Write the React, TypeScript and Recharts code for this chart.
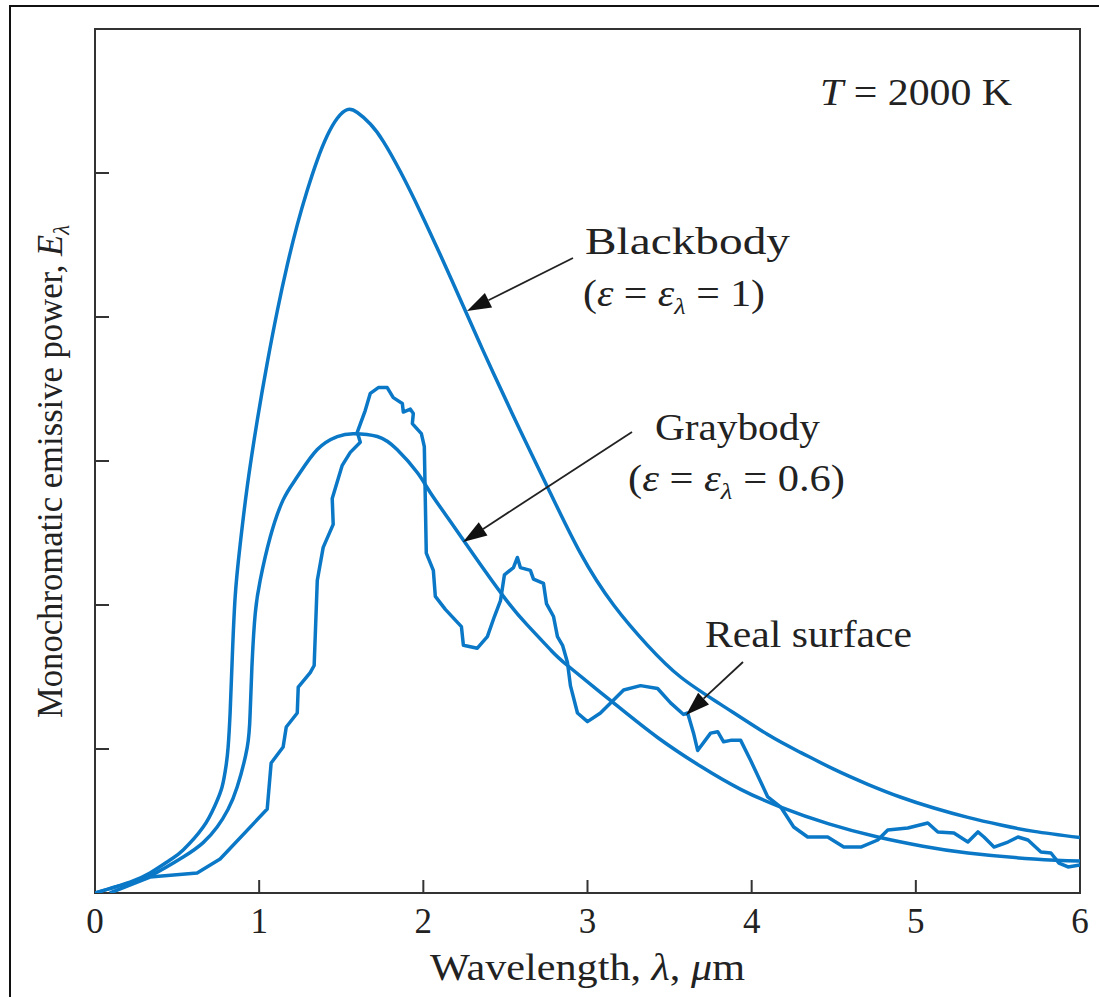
import React from 'react';
import { ComposedChart, Line, XAxis, YAxis, ReferenceArea } from 'recharts';

// Wavelength (µm) and monochromatic emissive power (arbitrary units)
const blackbodyLambda = [0, 0.213, 0.335, 0.457, 0.537, 0.659, 0.732, 0.774, 0.799, 0.811, 0.823, 0.835, 0.854, 0.884, 0.927, 0.988, 1.049, 1.11, 1.171, 1.232, 1.293, 1.354, 1.415, 1.476, 1.537, 1.598, 1.677, 1.756, 1.86, 1.982, 2.104, 2.226, 2.335, 2.427, 2.591, 2.756, 2.957, 3.159, 3.366, 3.567, 3.811, 4.098, 4.3, 4.5, 4.707, 4.909, 5.11, 5.317, 5.518, 5.72, 6.0];
const blackbodyE = [0, 0.076, 0.139, 0.229, 0.299, 0.458, 0.611, 0.736, 0.889, 1.014, 1.25, 1.6, 2.06, 2.417, 2.82, 3.28, 3.68, 4.04, 4.36, 4.64, 4.88, 5.09, 5.26, 5.38, 5.44, 5.42, 5.34, 5.22, 5.01, 4.73, 4.43, 4.12, 3.84, 3.61, 3.21, 2.82, 2.36, 2.0, 1.72, 1.5, 1.31, 1.1, 0.975, 0.86, 0.755, 0.665, 0.59, 0.525, 0.472, 0.428, 0.385];

const graybodyLambda = [0, 0.213, 0.335, 0.537, 0.659, 0.744, 0.81, 0.866, 0.927, 0.945, 0.957, 0.976, 1.006, 1.067, 1.146, 1.232, 1.354, 1.476, 1.573, 1.72, 1.84, 1.963, 2.043, 2.165, 2.287, 2.488, 2.634, 2.774, 2.878, 3.159, 3.427, 3.689, 3.933, 4.177, 4.47, 4.768, 5.043, 5.317, 5.72, 6.0];
const graybodyE = [0, 0.07, 0.118, 0.25, 0.35, 0.458, 0.58, 0.736, 1.01, 1.25, 1.6, 1.94, 2.17, 2.47, 2.73, 2.89, 3.08, 3.17, 3.19, 3.17, 3.08, 2.92, 2.78, 2.58, 2.38, 2.06, 1.86, 1.69, 1.58, 1.32, 1.08, 0.88, 0.72, 0.597, 0.48, 0.389, 0.325, 0.278, 0.236, 0.222];

const realLambda = [0.091, 0.335, 0.622, 0.762, 1.049, 1.073, 1.146, 1.165, 1.232, 1.238, 1.311, 1.335, 1.354, 1.39, 1.451, 1.445, 1.506, 1.555, 1.616, 1.598, 1.646, 1.677, 1.726, 1.78, 1.817, 1.872, 1.878, 1.921, 1.939, 1.933, 1.988, 2.006, 2.018, 2.061, 2.073, 2.134, 2.232, 2.244, 2.329, 2.39, 2.433, 2.47, 2.494, 2.549, 2.573, 2.591, 2.652, 2.671, 2.732, 2.75, 2.793, 2.817, 2.848, 2.878, 2.896, 2.939, 3.0, 3.079, 3.22, 3.323, 3.427, 3.506, 3.585, 3.61, 3.646, 3.671, 3.75, 3.793, 3.829, 3.872, 3.933, 3.994, 4.098, 4.177, 4.256, 4.341, 4.463, 4.561, 4.665, 4.768, 4.829, 4.951, 5.073, 5.134, 5.232, 5.317, 5.378, 5.415, 5.476, 5.561, 5.622, 5.683, 5.762, 5.823, 5.872, 5.927, 6.0];
const realE = [0, 0.111, 0.139, 0.236, 0.583, 0.903, 1.014, 1.153, 1.25, 1.43, 1.53, 1.58, 2.17, 2.4, 2.56, 2.74, 2.97, 3.06, 3.13, 3.2, 3.35, 3.47, 3.51, 3.51, 3.44, 3.4, 3.34, 3.36, 3.33, 3.26, 3.19, 3.1, 2.36, 2.24, 2.06, 1.97, 1.85, 1.72, 1.7, 1.78, 1.92, 2.03, 2.21, 2.26, 2.33, 2.26, 2.24, 2.18, 2.15, 2.01, 1.92, 1.78, 1.72, 1.6, 1.44, 1.25, 1.19, 1.25, 1.41, 1.44, 1.42, 1.32, 1.24, 1.25, 1.11, 0.99, 1.11, 1.12, 1.05, 1.06, 1.06, 0.92, 0.667, 0.597, 0.458, 0.389, 0.389, 0.319, 0.319, 0.368, 0.4375, 0.451, 0.486, 0.424, 0.417, 0.354, 0.424, 0.389, 0.319, 0.354, 0.389, 0.368, 0.285, 0.278, 0.208, 0.181, 0.194];

const xTicks = [0, 1, 2, 3, 4, 5, 6];
const yTicks = [1, 2, 3, 4, 5];

const toPoints = (xs: number[], ys: number[]) => xs.map((x, i) => ({ x, y: ys[i] }));
const blackbody = toPoints(blackbodyLambda, blackbodyE);
const graybody = toPoints(graybodyLambda, graybodyE);
const real = toPoints(realLambda, realE);

const BLUE = '#0a78c6';
const INK = '#222';
const FONT = '"Liberation Serif", "Times New Roman", serif';

const XTick = (props: any) => {
  const { x, y, payload } = props;
  const v = payload.value;
  return (
    <g>
      {v !== 0 && v !== 6 && <line x1={x} y1={y} x2={x} y2={y - 13} stroke="#333" strokeWidth={2} />}
      <text x={x} y={y + 40} textAnchor="middle" fontSize={35} fontFamily={FONT} fill={INK}>
        {v}
      </text>
    </g>
  );
};

const YTick = (props: any) => {
  const { x, y } = props;
  return <line x1={x} y1={y} x2={x + 14} y2={y} stroke="#333" strokeWidth={2} />;
};

const Arrow = ({ x1, y1, x2, y2 }: { x1: number; y1: number; x2: number; y2: number }) => {
  const dx = x2 - x1;
  const dy = y2 - y1;
  const len = Math.sqrt(dx * dx + dy * dy);
  const ux = dx / len;
  const uy = dy / len;
  const hl = 24;
  const hw = 8;
  const bx = x2 - ux * hl;
  const by = y2 - uy * hl;
  const pts = `${x2},${y2} ${bx - uy * hw},${by + ux * hw} ${bx + uy * hw},${by - ux * hw}`;
  return (
    <g>
      <line x1={x1} y1={y1} x2={bx} y2={by} stroke="#222" strokeWidth={1.8} />
      <polygon points={pts} fill="#111" />
    </g>
  );
};

const stretch = { lengthAdjust: 'spacingAndGlyphs' as const };

export default function App() {
  return (
    <div style={{ position: 'absolute', left: 0, top: 0, width: 1099, height: 997, background: '#fff' }}>
      <div style={{ position: 'absolute', left: 0, top: 0 }}>
        <ComposedChart width={1099} height={997} margin={{ top: 29, right: 19, left: 35, bottom: 44 }}>
          <XAxis
            type="number"
            dataKey="x"
            domain={[0, 6]}
            ticks={xTicks}
            allowDataOverflow
            axisLine={false}
            tickLine={false}
            tickSize={0}
            tickMargin={0}
            height={60}
            tick={<XTick />}
          />
          <YAxis
            type="number"
            domain={[0, 6]}
            ticks={yTicks}
            allowDataOverflow
            axisLine={false}
            tickLine={false}
            tickSize={0}
            tickMargin={0}
            width={60}
            tick={<YTick />}
          />
          <ReferenceArea x1={0} x2={6} y1={0} y2={6} fill="none" fillOpacity={0} stroke="#333" strokeWidth={2} strokeOpacity={1} />
          <Line data={blackbody} dataKey="y" type="natural" stroke={BLUE} strokeWidth={3.5} dot={false} isAnimationActive={false} />
          <Line data={graybody} dataKey="y" type="natural" stroke={BLUE} strokeWidth={3.5} dot={false} isAnimationActive={false} />
          <Line data={real} dataKey="y" type="linear" stroke={BLUE} strokeWidth={3.5} strokeLinejoin="round" dot={false} isAnimationActive={false} />
        </ComposedChart>
      </div>
      <svg width={1099} height={997} style={{ position: 'absolute', left: 0, top: 0, pointerEvents: 'none' }}>
        <path d="M10,997 L10,6 L1099,6" fill="none" stroke="#111" strokeWidth={2} />
        <g fontFamily={FONT} fill={INK} fontSize={38}>
          <text x={820} y={105} textLength={192} {...stretch}>
            <tspan fontStyle="italic">T</tspan> = 2000 K
          </text>
          <text x={585} y={254} textLength={205} {...stretch}>Blackbody</text>
          <text x={583} y={306} textLength={182} {...stretch}>
            (<tspan fontStyle="italic">ε</tspan> = <tspan fontStyle="italic">ε</tspan>
            <tspan fontSize={24} fontStyle="italic" dy={8}>λ</tspan>
            <tspan dy={-8}> = 1)</tspan>
          </text>
          <text x={655} y={440} textLength={165} {...stretch}>Graybody</text>
          <text x={628} y={491} textLength={217} {...stretch}>
            (<tspan fontStyle="italic">ε</tspan> = <tspan fontStyle="italic">ε</tspan>
            <tspan fontSize={24} fontStyle="italic" dy={8}>λ</tspan>
            <tspan dy={-8}> = 0.6)</tspan>
          </text>
          <text x={705} y={647} textLength={207} {...stretch}>Real surface</text>
          <text x={430} y={980} textLength={315} {...stretch}>
            Wavelength, <tspan fontStyle="italic">λ</tspan>, <tspan fontStyle="italic">μ</tspan>m
          </text>
          <text transform="translate(62,718) rotate(-90)" fontSize={35} textLength={493} {...stretch}>
            Monochromatic emissive power, <tspan fontStyle="italic">E</tspan>
            <tspan fontSize={23} fontStyle="italic" dy={7}>λ</tspan>
          </text>
        </g>
        <Arrow x1={573} y1={258} x2={467} y2={311} />
        <Arrow x1={632} y1={432} x2={463} y2={542} />
        <Arrow x1={743} y1={662} x2={686} y2={715} />
      </svg>
    </div>
  );
}
